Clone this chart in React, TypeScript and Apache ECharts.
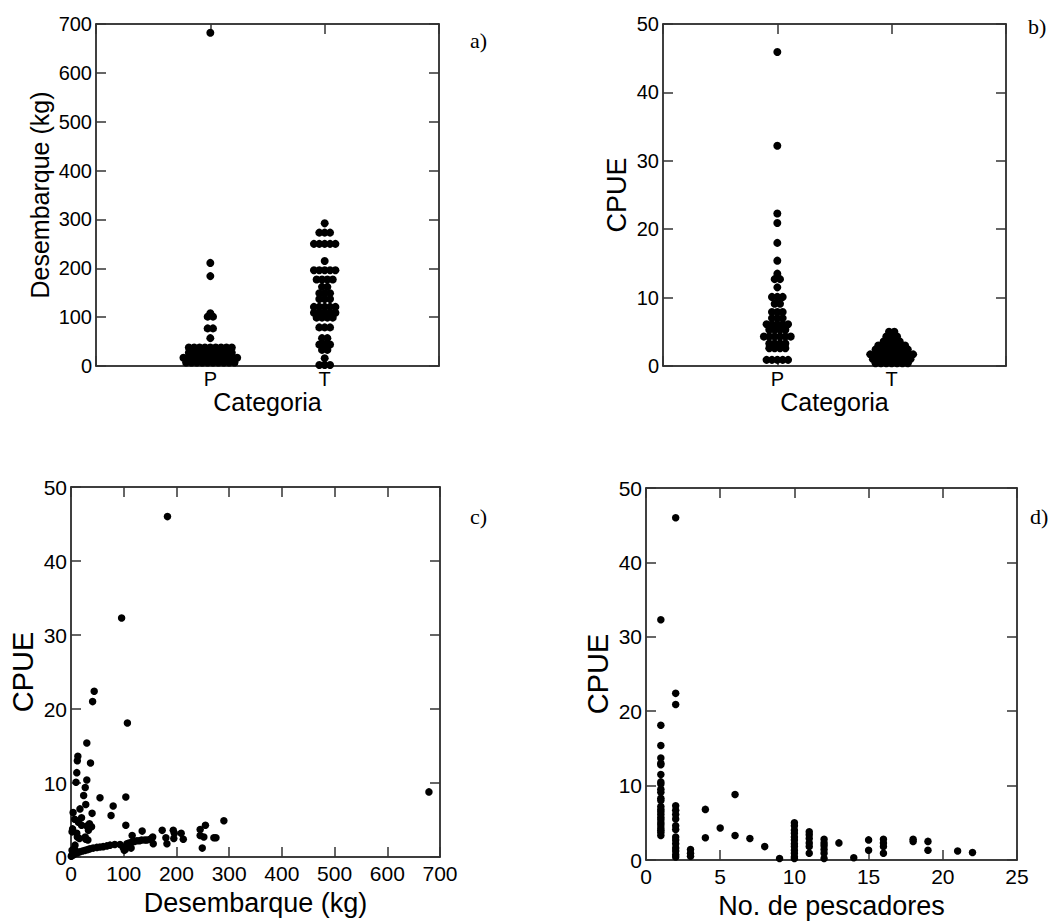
import React, { useEffect, useRef } from "react";
import * as echarts from "echarts";

// ---------- data ----------
const categories = ["P", "T"];

// Panel a: Desembarque (kg) by category
const desembarqueP = [
  682, 211, 184, 108, 101, 101, 77, 77, 57,
  38, 38, 38, 38, 38, 38, 38, 38, 38,
  27, 27, 27, 27, 27, 27, 27, 27, 27,
  17, 17, 17, 17, 17, 17, 17, 17, 17, 17, 17,
  7, 7, 7, 7, 7, 7, 7, 7, 7, 7,
];
const desembarqueT = [
  292, 273, 273, 273, 250, 250, 250, 250, 250, 215,
  196, 196, 196, 196, 196, 177, 177, 177, 177,
  162, 162, 149, 149, 149, 137, 137, 137,
  121, 121, 121, 121, 121, 109, 109, 109, 109, 109, 99, 99, 99, 99,
  79, 79, 79, 57, 57, 44, 44, 44, 33, 33, 16, 2, 2, 2,
];

// Panel b: CPUE by category
const cpueP = [
  45.9, 32.2, 22.3, 20.9, 18.0, 15.4, 13.5, 12.7, 12.7, 11.5,
  10.1, 10.1, 10.1, 9.1, 9.1, 7.9, 7.9, 7.9, 7.0, 7.0, 7.0,
  6.1, 6.1, 6.1, 6.1, 6.1, 5.3, 5.3, 5.3, 5.3,
  4.3, 4.3, 4.3, 4.3, 4.3, 4.3, 3.3, 3.3, 3.3, 3.3,
  2.6, 2.6, 2.6, 2.6, 0.9, 0.9, 0.9, 0.9, 0.9,
];
const cpueT = [
  5.0, 5.0, 4.3, 4.3, 4.3, 3.6, 3.6, 3.6, 3.6,
  3.0, 3.0, 3.0, 3.0, 3.0, 3.0, 2.4, 2.4, 2.4, 2.4, 2.4, 2.4, 2.4,
  1.7, 1.7, 1.7, 1.7, 1.7, 1.7, 1.7, 1.7, 1.7,
  1.0, 1.0, 1.0, 1.0, 1.0, 1.0, 1.0, 1.0,
  0.4, 0.4, 0.4, 0.4, 0.4, 0.4, 0.4,
];

// Panel c: [Desembarque (kg), CPUE]
const desembarqueVsCpue = [
  [183, 46.0], [96, 32.3], [44, 22.4], [41, 21.0], [107, 18.1], [30, 15.4],
  [13, 13.6], [12, 13.0], [37, 12.7], [11, 11.4], [30, 10.4], [9.5, 10.1],
  [27, 9.4], [24, 8.3], [55, 8.0], [104, 8.1], [80, 6.9], [28, 7.1], [17, 6.5],
  [4, 6.0], [40, 5.9], [76, 5.6], [20, 5.3], [7, 5.1], [14, 4.7], [35, 4.5],
  [30, 4.2], [104, 4.3], [39, 4.1], [2, 3.4], [11, 3.2], [12, 2.7], [27, 2.7],
  [28, 2.4], [16, 2.5], [290, 4.9], [255, 4.3], [245, 3.7], [245, 2.9],
  [252, 2.7], [271, 2.6], [275, 2.6], [249, 1.2], [173, 3.6], [180, 2.6],
  [182, 1.8], [194, 3.6], [196, 3.2], [195, 2.5], [209, 3.2], [213, 2.4],
  [135, 3.5], [155, 2.7], [156, 1.8], [116, 2.9], [114, 1.2], [103, 1.0],
  [679, 8.8],
  [7, 0.45], [12, 0.55], [17, 0.7], [22, 0.8], [27, 0.9], [32, 1.0], [36, 1.1],
  [42, 1.2], [49, 1.3], [55, 1.35], [61, 1.4], [68, 1.5], [74, 1.6], [83, 1.7],
  [93, 1.7], [99, 1.3], [101, 0.9], [106, 1.8], [110, 1.9], [115, 2.0],
  [120, 2.1], [125, 2.2], [130, 2.2], [134, 2.3], [140, 2.3], [144, 2.3],
  [150, 2.4], [153, 2.5],
  [0.5, 0.1], [1.5, 0.2], [3, 0.4], [5, 0.3], [3, 3.8], [20, 4.3], [33, 3.6],
  [32, 2.3], [7.6, 1.6], [5.7, 1.1], [9, 0.8], [2, 0.9],
];

// Panel d: [No. de pescadores, CPUE]
const pescadoresVsCpue = [
  [1, 32.3], [1, 18.1], [1, 15.4], [1, 13.7], [1, 13.0], [1, 12.8], [1, 11.5],
  [1, 10.5], [1, 10.2], [1, 9.5], [1, 9.1], [1, 8.3], [1, 8.0], [1, 7.2],
  [1, 6.8], [1, 6.5], [1, 6.1], [1, 5.7], [1, 5.4], [1, 5.0], [1, 4.7],
  [1, 4.3], [1, 4.0], [1, 3.7], [1, 3.3],
  [2, 46.0], [2, 22.4], [2, 20.9], [2, 7.3], [2, 6.7], [2, 6.1], [2, 5.5],
  [2, 4.6], [2, 4.1], [2, 3.1], [2, 2.7], [2, 2.2], [2, 1.6], [2, 1.2],
  [2, 0.7], [2, 0.4],
  [3, 1.4], [3, 0.9], [3, 0.5], [4, 6.8], [4, 3.0], [5, 4.3], [6, 8.8],
  [6, 3.3], [7, 2.9], [8, 1.8], [9, 0.2],
  [10, 5.0], [10, 4.6], [10, 4.0], [10, 3.6], [10, 3.1], [10, 2.7], [10, 2.2],
  [10, 1.8], [10, 1.3], [10, 0.9], [10, 0.45], [10, 0.2],
  [11, 3.8], [11, 3.4], [11, 2.9], [11, 2.3], [11, 1.8], [11, 0.9],
  [12, 2.8], [12, 2.3], [12, 1.9], [12, 1.4], [12, 0.9], [12, 0.2],
  [13, 2.3], [14, 0.3], [15, 2.7], [15, 1.3],
  [16, 2.8], [16, 2.3], [16, 1.8], [16, 0.9],
  [18, 2.8], [18, 2.5], [19, 2.5], [19, 1.3], [21, 1.2], [22, 1.0],
];

const panelLetters = ["a)", "b)", "c)", "d)"];

// ---------- helpers ----------
// dot-plot layout: points sharing the same value are spread side by side around the category
function swarm(values: number[], center: number, spacing: number) {
  const counts = new Map<number, number>();
  values.forEach((v) => counts.set(v, (counts.get(v) || 0) + 1));
  const seen = new Map<number, number>();
  return values.map((v) => {
    const n = counts.get(v) || 1;
    const i = seen.get(v) || 0;
    seen.set(v, i + 1);
    return [center + (i - (n - 1) / 2) * spacing, v];
  });
}

const FONT = "Liberation Sans";
const TICK = "#333";

function axisPair(
  gridIndex: number,
  dir: "x" | "y",
  min: number,
  max: number,
  interval: number,
  name: string,
  nameGap: number,
  nameSize: number,
  labelSize: number,
  labelMargin: number,
  formatter?: (v: number) => string
) {
  const main: any = {
    type: "value",
    gridIndex,
    position: dir === "x" ? "bottom" : "left",
    min,
    max,
    interval,
    name,
    nameLocation: "middle",
    nameGap,
    nameRotate: dir === "y" ? 90 : 0,
    nameTextStyle: { fontFamily: FONT, fontSize: nameSize, color: "#000" },
    axisLine: { show: true, onZero: false, lineStyle: { color: "#000", width: 1.5 } },
    axisTick: { show: true, inside: true, length: 10, lineStyle: { color: TICK, width: 1.5 } },
    axisLabel: {
      show: true,
      fontFamily: FONT,
      fontSize: labelSize,
      color: "#000",
      margin: labelMargin,
      formatter: formatter || ((v: number) => String(v)),
    },
    splitLine: { show: false },
  };
  const mirror: any = {
    type: "value",
    gridIndex,
    position: dir === "x" ? "top" : "right",
    min,
    max,
    interval,
    axisLine: { show: true, onZero: false, lineStyle: { color: "#000", width: 1.5 } },
    axisTick: { show: true, inside: true, length: 10, lineStyle: { color: TICK, width: 1.5 } },
    axisLabel: { show: false },
    splitLine: { show: false },
  };
  return [main, mirror];
}

export default function App() {
  const ref = useRef<HTMLDivElement>(null);

  useEffect(() => {
    if (!ref.current) return;
    const chart = echarts.init(ref.current, undefined, { renderer: "svg" });

    const catFmt = (v: number) => (v >= 1 && v <= categories.length && Number.isInteger(v) ? categories[v - 1] : "");
    const sp = 0.047;

    const grids = [
      { left: 96, top: 24, width: 343, height: 342 },
      { left: 663, top: 24, width: 343, height: 342 },
      { left: 71, top: 487, width: 369, height: 370 },
      { left: 646, top: 488, width: 371, height: 372 },
    ].map((g) => ({ ...g, containLabel: false, outerBoundsMode: "none", show: false }));

    const xAxis = [
      ...axisPair(0, "x", 0, 3, 1, "Categoria", 12, 25, 20, 3, catFmt),
      ...axisPair(1, "x", 0, 3, 1, "Categoria", 12, 25, 20, 3, catFmt),
      ...axisPair(2, "x", 0, 700, 100, "Desembarque (kg)", 32, 27, 21, 6),
      ...axisPair(3, "x", 0, 25, 5, "No. de pescadores", 32, 27, 21, 6),
    ];
    const yAxis = [
      ...axisPair(0, "y", 0, 700, 100, "Desembarque (kg)", 44, 25, 20, 4),
      ...axisPair(1, "y", 0, 50, 10, "CPUE", 33, 27, 20, 4),
      ...axisPair(2, "y", 0, 50, 10, "CPUE", 34, 29, 21, 4),
      ...axisPair(3, "y", 0, 50, 10, "CPUE", 34, 29, 21, 4),
    ];

    const dot = { color: "#000", opacity: 1 };
    const mk = (xi: number, yi: number, data: any[], size: number) => ({
      type: "scatter",
      xAxisIndex: xi,
      yAxisIndex: yi,
      data,
      symbol: "circle",
      symbolSize: size,
      itemStyle: dot,
      silent: true,
    });

    const series = [
      mk(0, 0, swarm(desembarqueP, 1, sp), 8),
      mk(0, 0, swarm(desembarqueT, 2, sp), 8),
      mk(2, 2, swarm(cpueP, 1, sp), 8),
      mk(2, 2, swarm(cpueT, 2, sp), 8),
      mk(4, 4, desembarqueVsCpue, 7.5),
      mk(6, 6, pescadoresVsCpue, 7.5),
    ];

    const letterPos = [
      [470, 40],
      [1028, 26],
      [470, 516],
      [1030, 516],
    ];
    const graphic = panelLetters.map((t, i) => ({
      type: "text",
      x: letterPos[i][0],
      y: letterPos[i][1],
      style: {
        text: t,
        fontFamily: "Liberation Serif",
        fontSize: 22,
        fill: "#000",
        verticalAlign: "middle",
        align: "left",
      },
    }));

    chart.setOption({
      animation: false,
      backgroundColor: "#fff",
      grid: grids,
      xAxis,
      yAxis,
      series,
      graphic,
    });

    return () => chart.dispose();
  }, []);

  return (
    <div
      ref={ref}
      style={{ position: "absolute", left: 0, top: 0, width: 1056, height: 923 }}
    />
  );
}
